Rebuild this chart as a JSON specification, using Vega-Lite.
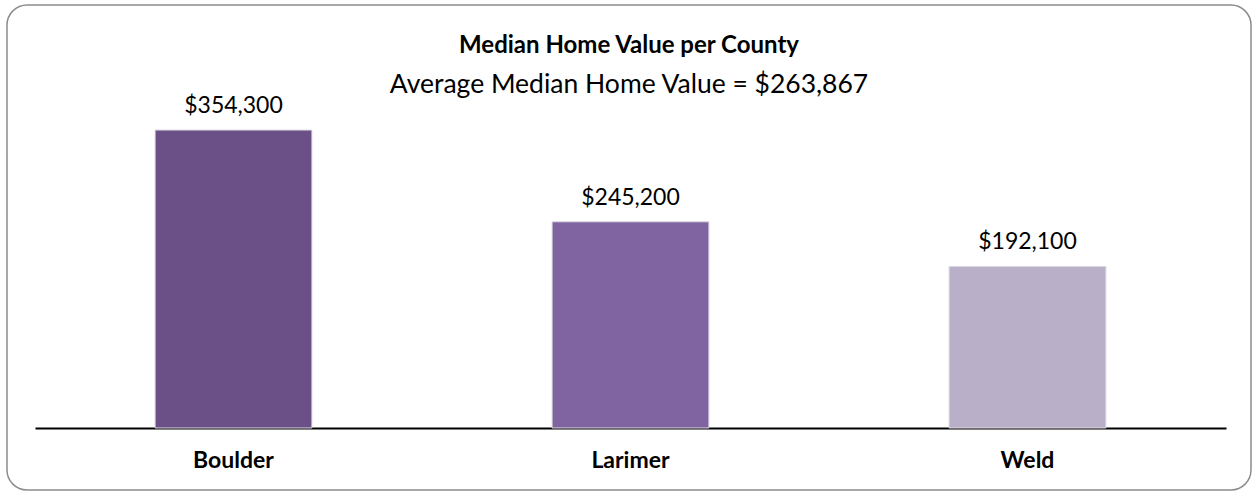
{
  "$schema": "https://vega.github.io/schema/vega-lite/v6.json",
  "width": 1244,
  "height": 485,
  "autosize": {"type": "none"},
  "padding": {"left": 7, "top": 5, "right": 2, "bottom": 1},
  "background": "white",
  "config": {
    "view": {"stroke": "#8c8c8c", "strokeWidth": 1.5, "cornerRadius": 20},
    "font": "Lato"
  },
  "title": {
    "text": "Median Home Value per County",
    "subtitle": "Average Median Home Value = $263,867",
    "anchor": "middle",
    "frame": "group",
    "orient": "top",
    "offset": -93,
    "font": "Lato",
    "fontSize": 24,
    "fontWeight": "bold",
    "color": "#000000",
    "subtitleFont": "Lato",
    "subtitleFontSize": 26.5,
    "subtitleColor": "#000000",
    "subtitlePadding": 14
  },
  "data": {
    "values": [
      {"county": "Boulder", "value": 354300, "label": "$354,300"},
      {"county": "Larimer", "value": 245200, "label": "$245,200"},
      {"county": "Weld", "value": 192100, "label": "$192,100"}
    ]
  },
  "encoding": {
    "x": {
      "field": "county",
      "type": "nominal",
      "sort": null,
      "scale": {"range": [28, 1219], "paddingInner": 0.605, "paddingOuter": 0.3025},
      "axis": {
        "title": null,
        "orient": "bottom",
        "offset": -62,
        "domainColor": "#000000",
        "domainWidth": 2,
        "ticks": false,
        "labelAngle": 0,
        "labelFont": "Lato",
        "labelFontSize": 23,
        "labelFontWeight": "bold",
        "labelColor": "#000000",
        "labelPadding": 21,
        "labelBaseline": "top"
      }
    },
    "y": {
      "field": "value",
      "type": "quantitative",
      "scale": {"domain": [0, 503000], "range": [423, 0], "nice": false},
      "axis": null
    }
  },
  "layer": [
    {
      "mark": {"type": "bar", "stroke": "#dcd8e0", "strokeWidth": 1},
      "encoding": {
        "color": {
          "field": "county",
          "type": "nominal",
          "scale": {"domain": ["Boulder", "Larimer", "Weld"], "range": ["#6a5087", "#8064a2", "#baafc9"]},
          "legend": null
        }
      }
    },
    {
      "mark": {"type": "text", "baseline": "alphabetic", "dy": -17, "fontSize": 23, "font": "Lato", "color": "#000000"},
      "encoding": {"text": {"field": "label"}}
    }
  ]
}
